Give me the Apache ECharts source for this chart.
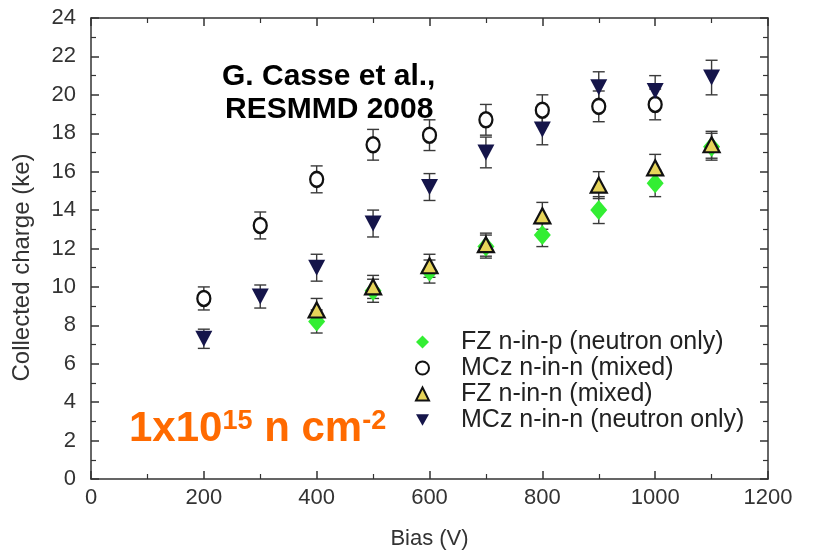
<!DOCTYPE html>
<html><head><meta charset="utf-8">
<script src="https://cdn.jsdelivr.net/npm/echarts@6/dist/echarts.min.js"></script>
<style>html,body{margin:0;padding:0;background:#fff}#c{width:816px;height:555px}</style>
</head><body><div id="c"></div>
<script>
// ---- data ----
const xTicks = [0, 200, 400, 600, 800, 1000, 1200];
const yTicks = [0, 2, 4, 6, 8, 10, 12, 14, 16, 18, 20, 22, 24];

const nameFZnp = 'FZ n-in-p (neutron only)';
const biasFZnp = [400, 500, 600, 700, 800, 900, 1000, 1100];
const chargeFZnp = [8.2, 9.8, 10.8, 12.1, 12.7, 14.0, 15.4, 17.3];
const errFZnp = [0.6, 0.6, 0.6, 0.6, 0.6, 0.7, 0.7, 0.7];

const nameMCzMixed = 'MCz n-in-n (mixed)';
const biasMCzMixed = [200, 300, 400, 500, 600, 700, 800, 900, 1000];
const chargeMCzMixed = [9.4, 13.2, 15.6, 17.4, 17.9, 18.7, 19.2, 19.4, 19.5];
const errMCzMixed = [0.6, 0.7, 0.7, 0.8, 0.8, 0.8, 0.8, 0.8, 0.8];

const nameFZnn = 'FZ n-in-n (mixed)';
const biasFZnn = [400, 500, 600, 700, 800, 900, 1000, 1100];
const chargeFZnn = [8.8, 10.0, 11.1, 12.2, 13.7, 15.3, 16.2, 17.4];
const errFZnn = [0.6, 0.6, 0.6, 0.6, 0.7, 0.7, 0.7, 0.7];

const nameMCzNeutron = 'MCz n-in-n (neutron only)';
const biasMCzNeutron = [200, 300, 400, 500, 600, 700, 800, 900, 1000, 1100];
const chargeMCzNeutron = [7.3, 9.5, 11.0, 13.3, 15.2, 17.0, 18.2, 20.4, 20.2, 20.9];
const errMCzNeutron = [0.5, 0.6, 0.7, 0.7, 0.7, 0.8, 0.8, 0.8, 0.8, 0.9];

// ---- build ----
const pairs = (xs, ys) => xs.map((x, i) => [x, ys[i]]);
const errData = (xs, ys, es) => xs.map((x, i) => [x, ys[i] - es[i], ys[i] + es[i]]);

function errRender(params, api) {
  const x = api.value(0), lo = api.value(1), hi = api.value(2);
  const p1 = api.coord([x, hi]), p2 = api.coord([x, lo]);
  const w = 6;
  const st = { stroke: '#3a3a3a', lineWidth: 1.4 };
  return { type: 'group', children: [
    { type: 'line', shape: { x1: p1[0], y1: p1[1], x2: p2[0], y2: p2[1] }, style: st },
    { type: 'line', shape: { x1: p1[0] - w, y1: p1[1], x2: p1[0] + w, y2: p1[1] }, style: st },
    { type: 'line', shape: { x1: p2[0] - w, y1: p2[1], x2: p2[0] + w, y2: p2[1] }, style: st }
  ]};
}
function errSeries(xs, ys, es) {
  return { type: 'custom', renderItem: errRender, data: errData(xs, ys, es), z: 1, silent: true, encode: { x: 0, y: [1, 2] } };
}

const downTri = 'path://M0,0 L10,0 L5,9 Z';
const axisCol = '#333';
const font = 'Liberation Sans, Arial, sans-serif';

function frameAxis(extra) {
  return Object.assign({
    type: 'value',
    axisLine: { show: true, onZero: false, lineStyle: { color: axisCol, width: 1.5 } },
    axisTick: { show: true, inside: true, length: 8, lineStyle: { color: axisCol, width: 1.5 } },
    minorTick: { show: true, splitNumber: 2, length: 5, lineStyle: { color: axisCol, width: 1.2 } },
    splitLine: { show: false },
    axisLabel: { show: false }
  }, extra);
}

const chart = echarts.init(document.getElementById('c'), null, { renderer: 'canvas' });
chart.setOption({
  animation: false,
  backgroundColor: '#fff',
  grid: { left: 91, right: 48, top: 18, bottom: 75 },
  xAxis: [
    frameAxis({ min: 0, max: 1200, interval: 200, position: 'bottom',
      name: 'Bias (V)', nameLocation: 'middle', nameGap: 49,
      nameTextStyle: { fontFamily: font, fontSize: 22, color: '#333' },
      axisLabel: { show: true, fontFamily: font, fontSize: 22, color: '#333', margin: 8,
        formatter: v => xTicks.includes(v) ? String(v) : '' } }),
    frameAxis({ min: 0, max: 1200, interval: 200, position: 'top' })
  ],
  yAxis: [
    frameAxis({ min: 0, max: 24, interval: 2, position: 'left',
      name: 'Collected charge (ke)', nameLocation: 'middle', nameGap: 57,
      nameTextStyle: { fontFamily: font, fontSize: 24, color: '#333', padding: [0, 38, 0, 0] },
      axisLabel: { show: true, fontFamily: font, fontSize: 22, color: '#333', margin: 15,
        formatter: v => yTicks.includes(v) ? String(v) : '' } }),
    frameAxis({ min: 0, max: 24, interval: 2, position: 'right' })
  ],
  legend: {
    orient: 'vertical', left: 410, top: 324, itemGap: 0,
    itemWidth: 13, itemHeight: 13,
    data: [nameFZnp, nameMCzMixed, nameFZnn, nameMCzNeutron],
    textStyle: { fontFamily: font, fontSize: 25, lineHeight: 26, color: '#222', padding: [0, 0, 0, 27] }
  },
  graphic: [
    { type: 'text', left: 222, top: 62, style: { text: 'G. Casse et al.,', font: 'bold 30px ' + font, fill: '#000' } },
    { type: 'text', left: 225, top: 95, style: { text: 'RESMMD 2008', font: 'bold 30px ' + font, fill: '#000' } },
    { type: 'text', left: 129, top: 408, style: {
      rich: {
        a: { fontFamily: font, fontWeight: 'bold', fontSize: 42, fill: '#ff6a00' },
        s: { fontFamily: font, fontWeight: 'bold', fontSize: 27, fill: '#ff6a00', verticalAlign: 'top' }
      },
      text: '{a|1x10}{s|15}{a| n cm}{s|-2}'
    } }
  ],
  series: [
    errSeries(biasFZnp, chargeFZnp, errFZnp),
    errSeries(biasMCzMixed, chargeMCzMixed, errMCzMixed),
    errSeries(biasFZnn, chargeFZnn, errFZnn),
    errSeries(biasMCzNeutron, chargeMCzNeutron, errMCzNeutron),
    { name: nameFZnp, type: 'scatter', data: pairs(biasFZnp, chargeFZnp), z: 2,
      symbol: 'diamond', symbolSize: [17, 20], itemStyle: { color: '#33ee33', opacity: 1 } },
    { name: nameFZnn, type: 'scatter', data: pairs(biasFZnn, chargeFZnn), z: 3,
      symbol: 'triangle', symbolSize: [16, 15], itemStyle: { color: '#e6d45a', borderColor: '#111', borderWidth: 2.2, opacity: 1 } },
    { name: nameMCzMixed, type: 'scatter', data: pairs(biasMCzMixed, chargeMCzMixed), z: 3,
      symbol: 'circle', symbolSize: [13, 15], itemStyle: { color: '#fff', borderColor: '#111', borderWidth: 2.4, opacity: 1 } },
    { name: nameMCzNeutron, type: 'scatter', data: pairs(biasMCzNeutron, chargeMCzNeutron), z: 3,
      symbol: downTri, symbolSize: [17, 16], itemStyle: { color: '#15154a', opacity: 1 } }
  ]
});
</script></body></html>
